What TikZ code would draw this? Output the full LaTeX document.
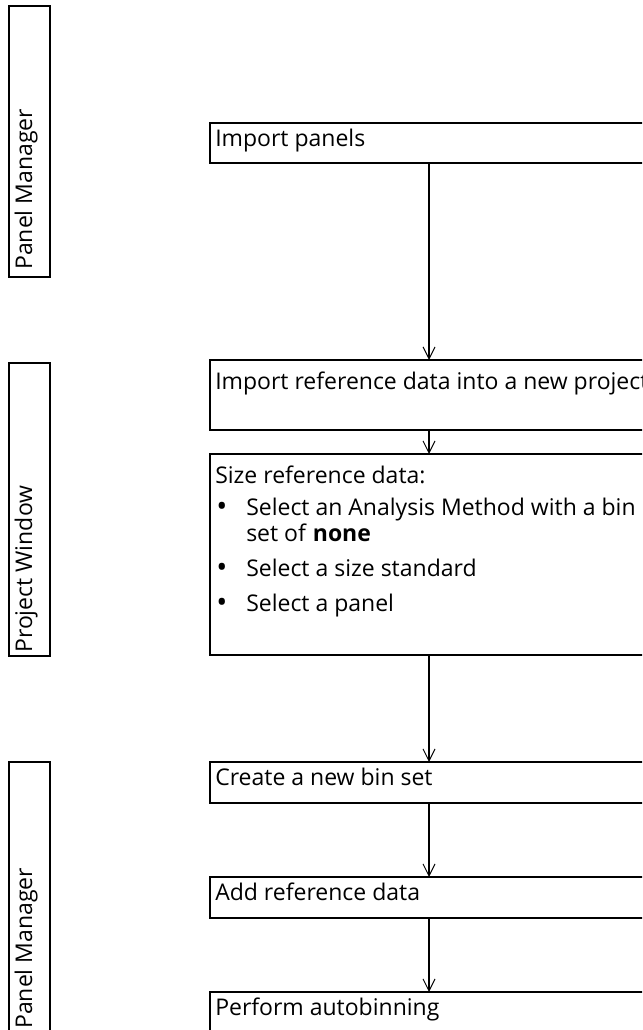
\documentclass[tikz,border=0pt]{standalone}
\usepackage{fontspec}
\setmainfont{Open Sans}
\usetikzlibrary{arrows.meta}
\begin{document}
\begin{tikzpicture}[x=0.75pt,y=-0.75pt,
  mainbox/.style={draw, line width=1.5pt, rectangle, anchor=north west, minimum width=328.5pt, inner sep=0pt, outer sep=0pt},
  sidebox/.style={draw, line width=0.9pt, rectangle, anchor=north west, minimum width=30.75pt, inner sep=0pt, outer sep=0pt},
  txt/.style={anchor=base west, inner sep=0pt, font=\fontsize{17.25pt}{20pt}\selectfont},
  bul/.style={anchor=base, inner sep=0pt, font=\fontsize{22pt}{24pt}\selectfont},
  sidetxt/.style={anchor=base west, inner sep=0pt, rotate=90, font=\fontsize{17.25pt}{20pt}\selectfont},
  shadowedge/.style={line width=1.6pt},
  flow/.style={line width=1pt, -{Straight Barb[length=9pt,width=9pt,line width=0.75pt]}}
]
\useasboundingbox (0,0) rectangle (642,1030);
\clip (0,0) rectangle (642,1030);

% side labels
\node[sidebox, minimum height=203.25pt] (s1) at (9,6) {};
\node[sidebox, minimum height=219.75pt] (s2) at (9,363) {};
\node[sidebox, minimum height=204pt] (s3) at (9,762) {};
\draw[shadowedge] (s1.north east) -- (s1.south east) -- (s1.south west);
\draw[shadowedge] (s2.north east) -- (s2.south east) -- (s2.south west);
\draw[shadowedge] (s3.north east) -- (s3.south east) -- (s3.south west);
\node[sidetxt] (l1) at (32,270) {Panel Manager};
\node[sidetxt] (l2) at (32,653) {Project Window};
\node[sidetxt] (l3) at (32,1029) {Panel Manager};

% main boxes
\node[mainbox, minimum height=30pt] (b1) at (210,123) {};
\node[mainbox, minimum height=52.5pt] (b2) at (210,360) {};
\node[mainbox, minimum height=150.75pt] (b3) at (210,454) {};
\node[mainbox, minimum height=30.75pt] (b4) at (210,762) {};
\node[mainbox, minimum height=30.75pt] (b5) at (210,877) {};
\node[mainbox, minimum height=31.5pt] (b6) at (210,992) {};

% texts
\node[txt] (t1) at (215,147) {Import panels};
\node[txt] (t2) at (215,389) {Import reference data into a new project};
\node[txt] (t3) at (215,483) {Size reference data:};
\node[bul] (u1) at (222,516) {•};
\node[txt] (i1) at (246,515) {Select an Analysis Method with a bin};
\node[txt] (i1b) at (246,541) {set of \textbf{none}};
\node[bul] (u2) at (222,577) {•};
\node[txt] (i2) at (246,576) {Select a size standard};
\node[bul] (u3) at (222,612) {•};
\node[txt] (i3) at (246,611) {Select a panel};
\node[txt] (t4) at (215,785) {Create a new bin set};
\node[txt] (t5) at (215,900) {Add reference data};
\node[txt] (t6) at (215,1015) {Perform autobinning};

% connectors
\draw[flow] (b1.south) -- (b2.north);
\draw[flow] (b2.south) -- (b3.north);
\draw[flow] (b3.south) -- (b4.north);
\draw[flow] (b4.south) -- (b5.north);
\draw[flow] (b5.south) -- (b6.north);
\end{tikzpicture}
\end{document}
